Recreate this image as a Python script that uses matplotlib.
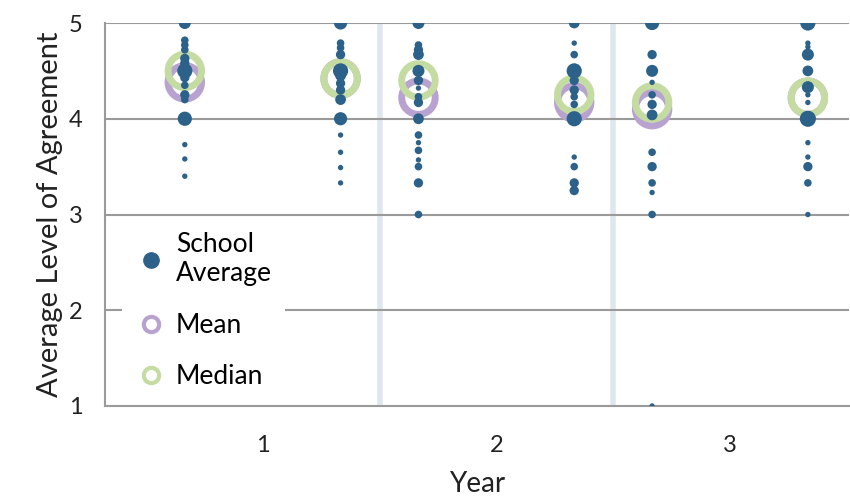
import matplotlib.pyplot as plt
from matplotlib.lines import Line2D

plt.rcParams['font.family'] = ['Lato', 'DejaVu Sans']

years = [1, 2, 3]
offsets = [-1 / 3, 1 / 3]

# school averages per column (two columns per year), and dot size (number of schools)
y1a_vals = [5.0, 4.82, 4.77, 4.72, 4.63, 4.58, 4.5, 4.43, 4.35, 4.25, 4.2, 4.0, 3.73, 3.58, 3.4]
y1a_size = [5, 2, 2, 2, 3, 3, 8, 3, 2, 3, 2, 7, 1, 1, 1]
y1b_vals = [5.0, 4.79, 4.74, 4.67, 4.5, 4.45, 4.37, 4.3, 4.2, 4.0, 3.83, 3.65, 3.49, 3.33]
y1b_size = [6, 2, 2, 3, 8, 4, 3, 3, 4, 6, 1, 1, 1, 1]
y2a_vals = [5.0, 4.77, 4.72, 4.67, 4.5, 4.4, 4.32, 4.23, 4.17, 4.0, 3.83, 3.75, 3.67, 3.57, 3.5, 3.33, 3.0]
y2a_size = [5, 2, 3, 4, 5, 3, 1, 2, 3, 4, 2, 1, 2, 1, 2, 3, 2]
y2b_vals = [5.0, 4.79, 4.67, 4.5, 4.4, 4.3, 4.23, 4.15, 4.0, 3.6, 3.5, 3.33, 3.25]
y2b_size = [4, 1, 2, 8, 3, 3, 2, 2, 8, 1, 2, 3, 3]
y3a_vals = [5.0, 4.67, 4.5, 4.38, 4.25, 4.15, 4.04, 3.65, 3.5, 3.33, 3.23, 3.0, 1.0]
y3a_size = [7, 3, 5, 1, 2, 3, 4, 2, 3, 2, 1, 2, 1]
y3b_vals = [5.0, 4.79, 4.75, 4.67, 4.5, 4.33, 4.25, 4.17, 4.0, 3.75, 3.6, 3.5, 3.33, 3.0]
y3b_size = [8, 1, 1, 5, 4, 5, 1, 1, 9, 1, 1, 3, 2, 1]

column_vals = [y1a_vals, y1b_vals, y2a_vals, y2b_vals, y3a_vals, y3b_vals]
column_size = [y1a_size, y1b_size, y2a_size, y2b_size, y3a_size, y3b_size]

means = [4.38, 4.42, 4.22, 4.17, 4.1, 4.22]
medians = [4.5, 4.42, 4.4, 4.25, 4.17, 4.22]

dot_color = '#2c6189'
mean_color = '#b8a2d0'
median_color = '#c4dca2'
grid_color = '#9a9a9a'
text_color = '#222222'

fig = plt.figure(figsize=(8.5, 5), dpi=100)
ax = fig.add_axes([0.1235, 0.188, 0.8755, 0.766])

xs = [y + o for y in years for o in offsets]

for x in [1.5, 2.5]:
    ax.axvline(x, color='#dfe7ee', lw=4, zorder=0)
for yv in [2, 3, 4, 5]:
    ax.axhline(yv, color=grid_color, lw=1.5, zorder=0.5)

ax.scatter(xs, means, s=580, facecolors='none', edgecolors=mean_color, linewidths=5, zorder=2)
ax.scatter(xs, medians, s=580, facecolors='none', edgecolors=median_color, linewidths=5, zorder=2.5)

for x, vals, sizes in zip(xs, column_vals, column_size):
    ax.scatter([x] * len(vals), vals, s=[n * 15 for n in sizes], color=dot_color,
               edgecolors='none', zorder=3)

ax.set_xlim(0.325, 3.51)
ax.set_ylim(1, 5)
ax.set_xticks(years)
ax.set_yticks([1, 2, 3, 4, 5])
ax.tick_params(length=0, labelsize=17, colors=text_color)
ax.tick_params(axis='x', pad=21)
ax.tick_params(axis='y', pad=16)
for side in ['top', 'right']:
    ax.spines[side].set_visible(False)
for side in ['left', 'bottom']:
    ax.spines[side].set_color(grid_color)
    ax.spines[side].set_linewidth(1.5)

ax.set_xlabel('Year', fontsize=20, color=text_color, labelpad=11)
ax.set_ylabel('Average Level of Agreement', fontsize=21, color=text_color, labelpad=4)

handles = [
    Line2D([], [], marker='o', ls='none', color=dot_color, markersize=11),
    Line2D([], [], marker='o', ls='none', markerfacecolor='none', markeredgecolor=mean_color,
           markeredgewidth=3, markersize=11),
    Line2D([], [], marker='o', ls='none', markerfacecolor='none', markeredgecolor=median_color,
           markeredgewidth=3, markersize=11),
]
leg = ax.legend(handles, ['School\nAverage', 'Mean', 'Median'], loc='lower left',
                bbox_to_anchor=(0.005, -0.025), frameon=True, fontsize=19, labelspacing=1.0,
                handletextpad=0.35, borderpad=0.5, handlelength=1.2)
leg.get_frame().set_facecolor('white')
leg.get_frame().set_edgecolor('none')
leg.get_frame().set_alpha(1)
leg.set_zorder(5)

fig.savefig('out.png', dpi=100)
